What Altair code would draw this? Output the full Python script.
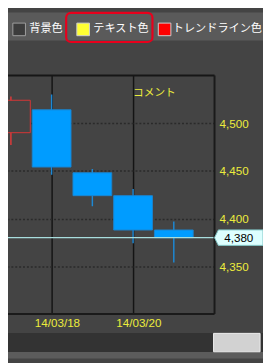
import altair as alt
import pandas as pd

# ---- data ----
days = [17, 18, 19, 20, 21]
opens = [4490, 4514, 4448, 4424, 4388]
highs = [4528, 4530, 4452, 4431, 4397]
lows = [4477, 4446, 4413, 4374, 4354]
closes = [4524, 4454, 4424, 4388, 4380]
tick_days = [18, 20]
tick_labels = ["14/03/18", "14/03/20"]
price_ticks = [4350, 4400, 4450, 4500]
toolbar_labels = ["背景色", "テキスト色", "トレンドライン色"]
comment_text = ["コメント"]
current_price = [4380]

df = pd.DataFrame({"day": days, "open": opens, "high": highs, "low": lows, "close": closes})
df["dir"] = ["up" if c > o else "down" for o, c in zip(opens, closes)]
df["x0"] = df["day"] - 0.476
df["x1"] = df["day"] + 0.476

annot = pd.DataFrame({
    "price": current_price,
    "label": [f"{p:,}" for p in current_price],
    "comment": comment_text,
})

BG = "#444444"
YEL = "#ecec3c"
FONT_NUM = "Liberation Sans Narrow, Liberation Sans, sans-serif"
FONT_JP = "Noto Sans CJK JP"

label_expr = " : ".join(f"datum.value == {d} ? '{t}'" for d, t in zip(tick_days, tick_labels)) + " : ''"

xscale = alt.Scale(domain=[16.9286, 22.0], nice=False, zero=False)
yscale = alt.Scale(domain=[4300, 4550], nice=False, zero=False)
xaxis = alt.Axis(values=tick_days, labelExpr=label_expr, title=None, orient="bottom",
                 domain=False, ticks=False, tickSize=0, grid=True, gridColor="#141414",
                 gridWidth=1.5, labelColor=YEL, labelFont=FONT_NUM, labelFontSize=12,
                 labelPadding=8.5, labelBaseline="middle", labelOffset=5.5,
                 labelFlush=False, labelOverlap=False)
yaxis = alt.Axis(values=price_ticks, format=",d", title=None, orient="right",
                 domain=False, ticks=False, tickSize=0, grid=True, gridColor="#2a2a2a",
                 gridWidth=1.5, gridDash=[2, 2], labelColor=YEL, labelFont=FONT_NUM,
                 labelFontSize=12, labelPadding=4.7, labelBaseline="middle",
                 labelAlign="left", labelFlush=False, labelOverlap=False)

base = alt.Chart(df)

wicks = base.mark_rule(strokeWidth=1.5, clip=True).encode(
    x=alt.X("day:Q", scale=xscale, axis=xaxis),
    y=alt.Y("low:Q", scale=yscale, axis=yaxis),
    y2="high:Q",
    color=alt.Color("dir:N", scale=alt.Scale(domain=["up", "down"], range=["#e03a3a", "#1d88d4"]), legend=None),
)

bodies = base.mark_rect(strokeWidth=1, clip=True).encode(
    x=alt.X("x0:Q", scale=xscale, axis=xaxis),
    x2="x1:Q",
    y=alt.Y("open:Q", scale=yscale, axis=yaxis),
    y2="close:Q",
    fill=alt.Fill("dir:N", scale=alt.Scale(domain=["up", "down"], range=[BG, "#009cff"]), legend=None),
    stroke=alt.Stroke("dir:N", scale=alt.Scale(domain=["up", "down"], range=["#d93636", "#1a84d0"]), legend=None),
)

ann = alt.Chart(annot)

price_line = ann.mark_rule(color="#a8dede", strokeWidth=1.5).encode(
    y=alt.Y("price:Q", scale=yscale, axis=yaxis)
)

frame_top = ann.mark_rule(color="#161616", strokeWidth=2).encode(
    y=alt.YDatum(4550, scale=yscale, axis=yaxis, type="quantitative"))
frame_bottom = ann.mark_rule(color="#1a1a1a", strokeWidth=2).encode(
    y=alt.YDatum(4300, scale=yscale, axis=yaxis, type="quantitative"))
frame_right = ann.mark_rule(color="#1a1a1a", strokeWidth=2).encode(
    x=alt.XDatum(22.0, scale=xscale, axis=xaxis, type="quantitative"))

tag_path = "M -1 0 L -0.84 -0.32 L 1 -0.32 L 1 0.32 L -0.84 0.32 Z"
tag = ann.mark_point(shape=tag_path, size=2500, filled=True, fill="#ddffff",
                     stroke="#80c4c4", strokeWidth=1, opacity=1).encode(
    x=alt.value(238),
    y=alt.Y("price:Q", scale=yscale, axis=yaxis),
)
tag_text = ann.mark_text(align="left", baseline="middle", font=FONT_NUM, fontSize=12,
                         color="#000000").encode(
    x=alt.value(223),
    y=alt.Y("price:Q", scale=yscale, axis=yaxis),
    text="label:N",
)

comment = ann.mark_text(align="left", baseline="middle", font=FONT_JP, fontSize=11,
                        color=YEL).encode(
    x=alt.XDatum(20, scale=xscale, axis=xaxis, type="quantitative"),
    y=alt.YDatum(4531, scale=yscale, axis=yaxis, type="quantitative"),
    text="comment:N",
)

# ---- window chrome (toolbar and bottom bar) ----
def box(x, x2, y, y2, **kw):
    return ann.mark_rect(**kw).encode(x=alt.value(x), x2=alt.value(x2),
                                      y=alt.value(y), y2=alt.value(y2))

def label(x, y, txt):
    return ann.mark_text(align="left", baseline="middle", font=FONT_JP, fontSize=11.5,
                         color="#ffffff").encode(x=alt.value(x), y=alt.value(y),
                                                 text=alt.value(txt))

toolbar = box(-1, 264, -65, -36, color="#5a5a5a")
cb1 = box(5, 18, -54, -41, fill="#3c3c3c", stroke="#a0a0a0", strokeWidth=1)
cb2 = box(71, 84, -54, -41, fill="#ffff33", stroke="#d0d0d0", strokeWidth=1)
cb3 = box(155, 168, -54, -41, fill="#ff0000", stroke="#d0d0d0", strokeWidth=1)
hl = box(60, 149, -64.5, -34.5, fillOpacity=0, stroke="#e8001c", strokeWidth=2.2, cornerRadius=5)
l1 = label(22, -47.5, toolbar_labels[0])
l2 = label(88, -47.5, toolbar_labels[1])
l3 = label(170, -47.5, toolbar_labels[2])

band = box(-1, 264, 265.7, 285.3, color="#333333")
strip = box(-1, 264, 285.3, 292, color="#5c5c5c")
button = box(212, 260, 266, 285, fill="#d2d2d2", stroke="#eeeeee", strokeWidth=1)

chart = alt.layer(
    wicks, bodies, price_line, frame_top, frame_bottom, frame_right,
    tag, tag_text, comment,
    toolbar, cb1, cb2, cb3, hl, l1, l2, l3, band, strip, button,
).properties(
    width=213, height=246, background=BG,
    autosize=alt.AutoSizeParams(type="none"),
    padding={"left": 0, "top": 64, "right": 50, "bottom": 45},
).configure_view(stroke="transparent")

chart.save("out.html", embed_options={"renderer": "svg", "actions": False})
